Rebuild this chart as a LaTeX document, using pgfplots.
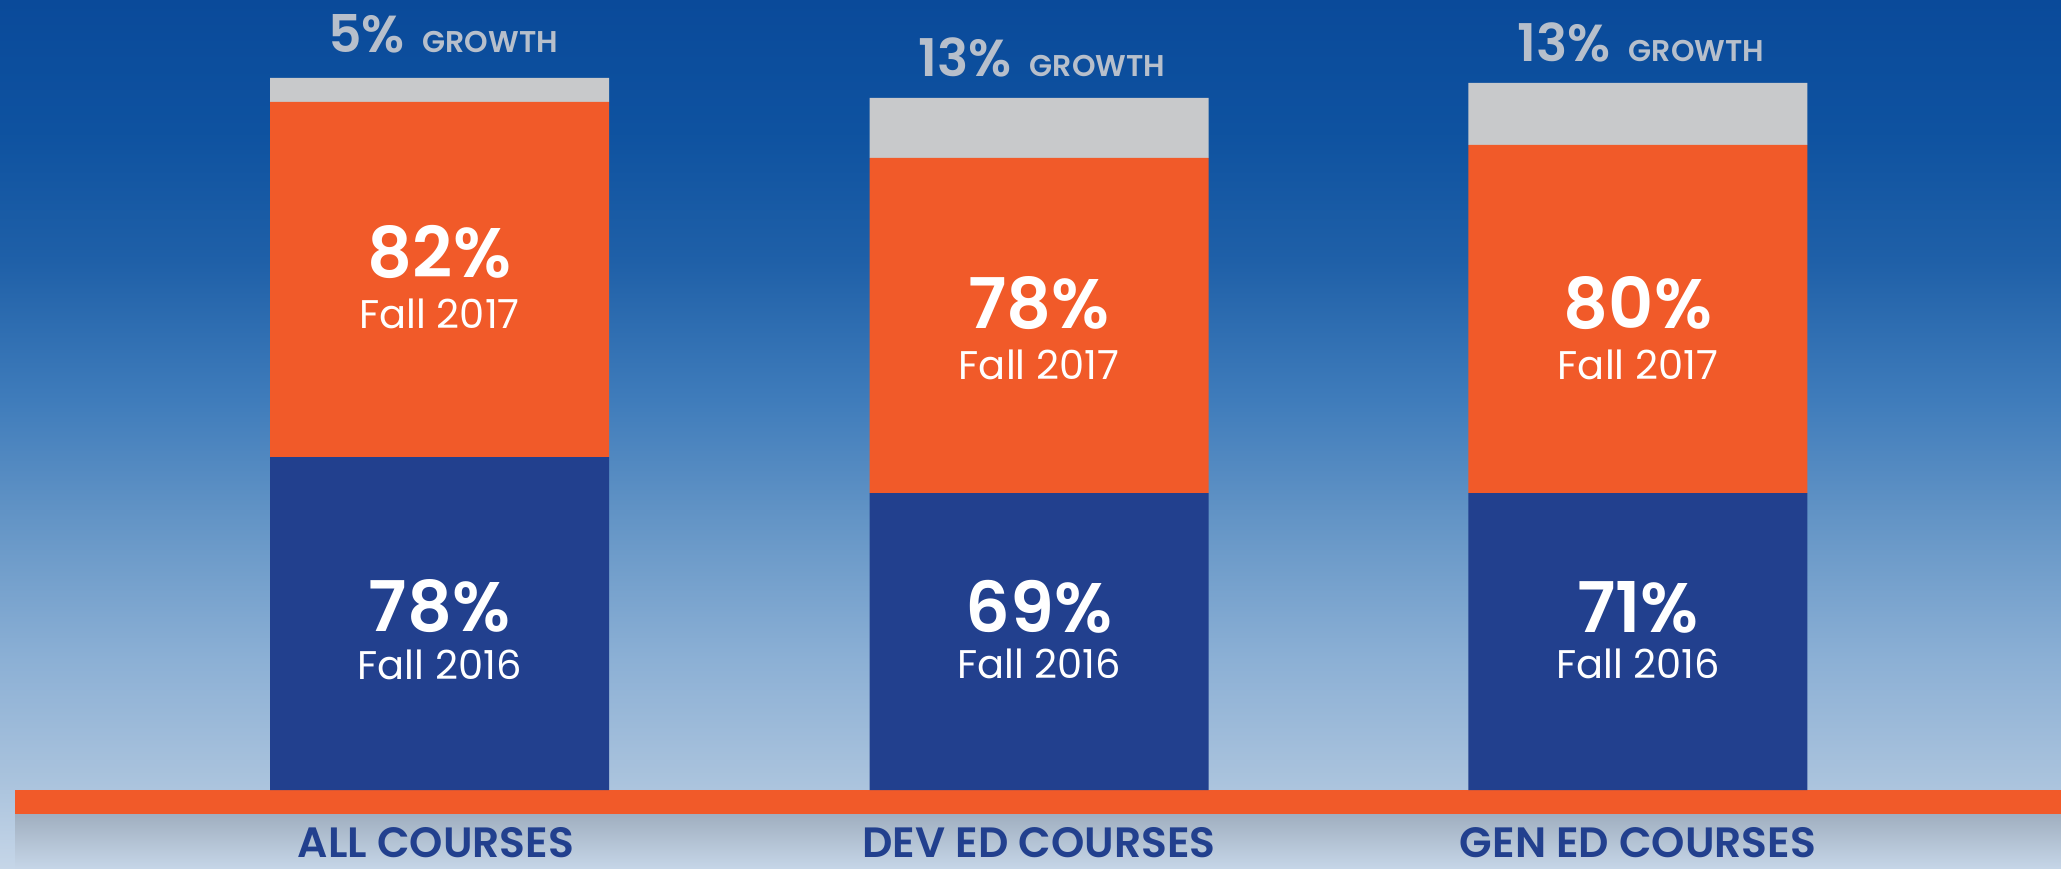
\documentclass[border=0pt]{standalone}
\usepackage{pgfplots}
\pgfplotsset{compat=1.18}
\usepackage{fontspec}
\setmainfont{Poppins}
\newfontfamily\psemi{Poppins}[UprightFont={* SemiBold}]
\definecolor{navy}{HTML}{22408E}
\definecolor{orng}{HTML}{F15A29}
\definecolor{grayb}{HTML}{C8C9CB}
\definecolor{growtxt}{HTML}{B7BFCB}
\definecolor{c0}{HTML}{C6D6E8}
\definecolor{c1}{HTML}{AAC3DD}
\definecolor{c2}{HTML}{8CB0D5}
\definecolor{c3}{HTML}{6495C6}
\definecolor{c4}{HTML}{3F7CBB}
\definecolor{c5}{HTML}{1F60A8}
\definecolor{c6}{HTML}{0E52A0}
\definecolor{c7}{HTML}{0A4A9A}
\definecolor{shadowc}{HTML}{8F9FB2}
\definecolor{shadowt}{HTML}{A0AFC0}
\pgfdeclareverticalshading{bgshade}{100bp}{color(0bp)=(c0); color(25bp)=(c0); color(30bp)=(c1); color(37bp)=(c2); color(45bp)=(c3); color(52bp)=(c4); color(60bp)=(c5); color(67.5bp)=(c6); color(75bp)=(c7); color(100bp)=(c7)}
\tikzset{
  lblbig/.style={anchor=base, text=white, inner sep=0pt, text depth=0pt, font=\fontsize{17.5}{17.5}\psemi},
  lblsmall/.style={anchor=base, text=white, inner sep=0pt, text depth=0pt, text height=7pt, font=\fontsize{10}{10}\selectfont},
  lblgrow/.style={anchor=base, text=growtxt, inner sep=0pt},
  lblcat/.style={anchor=base, text=navy, inner sep=0pt, text depth=0pt, font=\fontsize{10.6}{10.6}\psemi},
}
\newcommand{\growth}[1]{{\fontsize{13}{13}\psemi #1\%\hspace{4.5pt}\fontsize{7.5}{8}\selectfont GROWTH}}
\begin{document}
\begin{tikzpicture}
% background (1 unit of the axis = 0.25pt)
\path[shading=bgshade] (0,0) rectangle (515.25pt,217.25pt);
\shade[top color=shadowt, middle color=shadowc, bottom color=c0] (3.75pt,0) rectangle (515.25pt,13.75pt);
\fill[orng] (3.75pt,13.75pt) rectangle (515.25pt,19.75pt);
\begin{axis}[
  at={(0,0)}, anchor=south west,
  scale only axis,
  width=515.25pt, height=217.25pt,
  xmin=0, xmax=2061, ymin=-79, ymax=790,
  hide axis, clip=false,
  ybar stacked, bar width=339,
]
% Fall 2016 (bottom)
\addplot[fill=navy, draw=none] coordinates {(439.5,333) (1039,297) (1638,297)};
% Fall 2017 increase (middle)
\addplot[fill=orng, draw=none] coordinates {(439.5,355) (1039,335) (1638,348)};
% growth (top)
\addplot[fill=grayb, draw=none] coordinates {(439.5,24) (1039,60) (1638,62)};

\coordinate (g1) at (axis cs:443,737);
\coordinate (g2) at (axis cs:1042,713);
\coordinate (g3) at (axis cs:1641,728);
\coordinate (o1) at (axis cs:439.5,512);
\coordinate (o1f) at (axis cs:439.5,461);
\coordinate (o2) at (axis cs:1039,461);
\coordinate (o2f) at (axis cs:1039,410);
\coordinate (o3) at (axis cs:1638,461);
\coordinate (o3f) at (axis cs:1638,410);
\coordinate (n1) at (axis cs:439.5,158);
\coordinate (n1f) at (axis cs:439.5,110);
\coordinate (n2) at (axis cs:1039,157);
\coordinate (n2f) at (axis cs:1039,111);
\coordinate (n3) at (axis cs:1638,157);
\coordinate (n3f) at (axis cs:1638,111);
\coordinate (k1) at (axis cs:436,-68);
\coordinate (k2) at (axis cs:1039,-68);
\coordinate (k3) at (axis cs:1638,-68);
\end{axis}
% growth labels
\node[lblgrow] at (g1) {\growth{5}};
\node[lblgrow] at (g2) {\growth{13}};
\node[lblgrow] at (g3) {\growth{13}};
% Fall 2017 labels
\node[lblbig] at (o1) {82\%};
\node[lblsmall] at (o1f) {Fall 2017};
\node[lblbig] at (o2) {78\%};
\node[lblsmall] at (o2f) {Fall 2017};
\node[lblbig] at (o3) {80\%};
\node[lblsmall] at (o3f) {Fall 2017};
% Fall 2016 labels
\node[lblbig] at (n1) {78\%};
\node[lblsmall] at (n1f) {Fall 2016};
\node[lblbig] at (n2) {69\%};
\node[lblsmall] at (n2f) {Fall 2016};
\node[lblbig] at (n3) {71\%};
\node[lblsmall] at (n3f) {Fall 2016};
% category labels
\node[lblcat] at (k1) {ALL COURSES};
\node[lblcat] at (k2) {DEV ED COURSES};
\node[lblcat] at (k3) {GEN ED COURSES};
\end{tikzpicture}
\end{document}
